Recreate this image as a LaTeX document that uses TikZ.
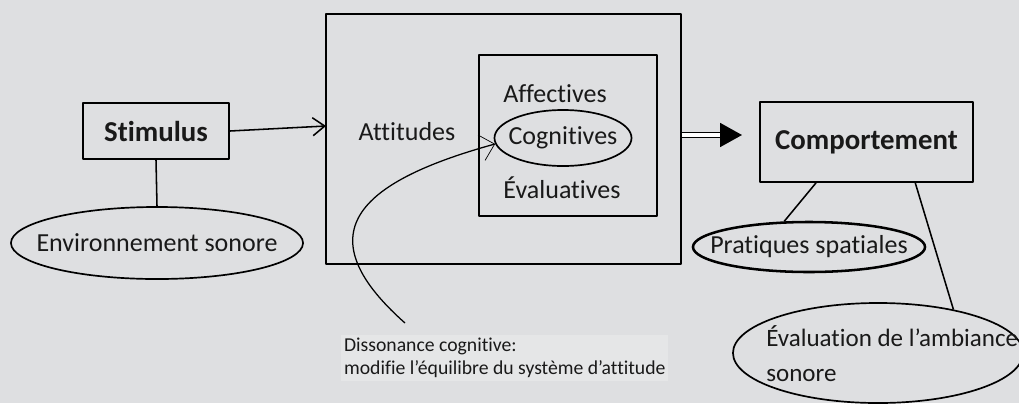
\documentclass[tikz,border=0pt]{standalone}
\usepackage{fontspec}
\setmainfont{Carlito}[Ligatures=NoCommon]
\usetikzlibrary{shapes.geometric, arrows.meta}
\definecolor{paper}{RGB}{222,223,225}
\definecolor{ink}{RGB}{25,25,25}
\definecolor{notepaper}{RGB}{229,230,231}

\begin{document}
\begin{tikzpicture}[
    x=0.025cm, y=-0.025cm,
    line join=round,
    every node/.style={text=ink},
    block/.style={draw, line width=1.3pt, font=\fontsize{20.5}{24}\selectfont\bfseries},
    outer/.style={draw, line width=1.3pt},
    oval/.style={ellipse, draw, line width=1.2pt, inner sep=0pt, font=\fontsize{18.5}{22}\selectfont},
    word/.style={font=\fontsize{18.5}{22}\selectfont},
    note/.style={align=left, fill=notepaper, inner sep=2pt, font=\fontsize{14}{16.5}\selectfont},
    link/.style={line width=1.1pt}
]
    % page size and background
    \useasboundingbox[fill=paper] (0,0) rectangle (1019,403);

    % left: the stimulus and its setting
    \node[block, minimum width=3.65cm, minimum height=1.4cm] (stim) at (156,131) {Stimulus};
    \node[oval, minimum width=7.3cm, minimum height=1.8cm] (env) at (157,243) {\makebox[0pt]{Environnement sonore}};

    % middle: the attitude system
    \node[outer, minimum width=8.875cm, minimum height=6.25cm] (att) at (503.5,139) {};
    \node[outer, minimum width=4.45cm, minimum height=4.025cm] (comps) at (568,135.5) {};
    \node[word] (attl) at (407,132) {Attitudes};
    \node[word] (aff) at (555,94) {Affectives};
    \node[oval, minimum width=3.425cm, minimum height=1.4cm] (cog) at (563,138) {\makebox[0pt]{Cognitives}};
    \node[word] (eva) at (562,188) {Évaluatives};

    % right: behaviour
    \node[block, minimum width=5.325cm, minimum height=2cm] (comp) at (866.5,142) {Comportement};
    \node[oval, line width=1.8pt, minimum width=5.8cm, minimum height=1.25cm] (prat) at (809,247) {\makebox[0pt]{Pratiques spatiales}};
    \node[oval, minimum width=7.25cm, minimum height=2.5cm] (amb) at (878,353) {};
    \node[word, align=left, anchor=west, inner sep=0pt, font=\fontsize{17.8}{25}\selectfont] (ambl) at (766,354) {Évaluation de l’ambiance\\sonore};

    % note below
    \node[note, anchor=west] (diss) at (341,358) {Dissonance cognitive:\\modifie l’équilibre du système d’attitude};

    \coordinate (attin) at (326,126);
    \coordinate (comptip) at (742,135);
    \coordinate (dstart) at (405,323);

    \path[link]
        (stim.south) edge (env.north)
        (comp.219) edge (prat.134)
        (comp.320) edge (amb.30);
    \draw[link, -{Straight Barb[length=3mm, width=4.5mm]}] (stim.east) -- (attin);
    \draw[line width=1.3pt, double distance=2.2pt, -{Triangle[length=5.5mm, width=6mm]}] (att.east |- comptip) -- (comptip);
    \draw[line width=0.9pt, -{Straight Barb[length=3.4mm, width=6.6mm, line width=0.5pt]}] (dstart) .. controls (300,230) and (365,180) .. (cog.185);
\end{tikzpicture}
\end{document}
